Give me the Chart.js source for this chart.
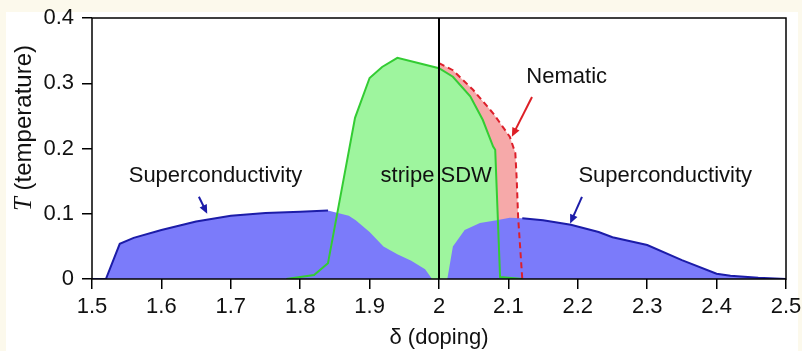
<!DOCTYPE html>
<html>
<head>
<meta charset="utf-8">
<script src="https://cdn.jsdelivr.net/npm/chart.js@4"></script>
<style>
  html, body { margin: 0; padding: 0; background: #fcf9ec; }
  #wrap { width: 802px; height: 351px; }
</style>
</head>
<body>
<div id="wrap"><canvas id="chart" width="802" height="351"></canvas></div>
<script>
// doping (delta) vs temperature T
const deltaTicks = [1.5, 1.6, 1.7, 1.8, 1.9, 2.0, 2.1, 2.2, 2.3, 2.4, 2.5];
const deltaTickLabels = ['1.5', '1.6', '1.7', '1.8', '1.9', '2', '2.1', '2.2', '2.3', '2.4', '2.5'];
const tempTicks = [0, 0.1, 0.2, 0.3, 0.4];
const tempTickLabels = ['0', '0.1', '0.2', '0.3', '0.4'];

// superconducting dome, visible outline on the left
const scLeftDelta = [1.5, 1.52, 1.54, 1.56, 1.6, 1.65, 1.7, 1.75, 1.8, 1.84];
const scLeftT = [0, 0, 0.054, 0.063, 0.075, 0.088, 0.097, 0.101, 0.103, 0.105];
// part of the dome hidden under the SDW region (no outline)
const scMidDelta = [1.87, 1.88, 1.9, 1.92, 1.94, 1.96, 1.98, 1.99, 2.0, 2.012, 2.02, 2.037, 2.059, 2.083, 2.102];
const scMidT = [0.097, 0.09, 0.072, 0.05, 0.038, 0.028, 0.015, 0, 0, 0, 0.05, 0.075, 0.086, 0.09, 0.094];
// visible outline on the right
const scRightDelta = [2.12, 2.15, 2.19, 2.23, 2.25, 2.3, 2.35, 2.4, 2.42, 2.46, 2.5];
const scRightT = [0.093, 0.09, 0.083, 0.072, 0.064, 0.052, 0.029, 0.008, 0.005, 0.002, 0];

// stripe SDW
const sdwDelta = [1.78, 1.82, 1.84, 1.879, 1.9, 1.918, 1.94, 1.97, 2.0, 2.02, 2.045, 2.063, 2.078, 2.081, 2.088, 2.12];
const sdwT = [0, 0.006, 0.024, 0.247, 0.308, 0.325, 0.339, 0.331, 0.323, 0.31, 0.28, 0.244, 0.203, 0.198, 0.003, 0];

// nematic boundary
const nemDelta = [2.0, 2.02, 2.049, 2.078, 2.102, 2.11, 2.112, 2.114, 2.12];
const nemT = [0.331, 0.32, 0.29, 0.254, 0.218, 0.193, 0.152, 0.095, 0];

// delta = 2 marker
const markDelta = [2.0, 2.0];
const markT = [0, 0.4];

// text labels and arrows, in data units
const labels = [
  { text: 'Superconductivity', x: 1.678, y: 0.149 },
  { text: 'stripe SDW', x: 1.996, y: 0.149 },
  { text: 'Nematic', x: 2.184, y: 0.301 },
  { text: 'Superconductivity', x: 2.326, y: 0.149 },
];
const arrows = [
  { from: [1.654, 0.126], to: [1.666, 0.1], color: '#1c1ca8' },
  { from: [2.206, 0.126], to: [2.189, 0.085], color: '#1c1ca8' },
  { from: [2.134, 0.279], to: [2.105, 0.218], color: '#dd1f26' },
];

const pts = (xs, ys) => xs.map((x, i) => ({ x: x, y: ys[i] }));

const scFill = pts(scLeftDelta.concat(scMidDelta, scRightDelta), scLeftT.concat(scMidT, scRightT));
const scLine = pts(scLeftDelta, scLeftT).concat([{ x: 1.9, y: null }], pts(scRightDelta, scRightT));

const sans = "'Liberation Sans', Arial, Helvetica, sans-serif";
const serif = "'Liberation Serif', 'Times New Roman', serif";

const decor = {
  id: 'decor',
  beforeDraw(chart) {
    const c = chart.ctx;
    c.save();
    c.fillStyle = '#ffffff';
    c.fillRect(6, 12, 792, 339);
    c.restore();
  },
  afterDatasetsDraw(chart) {
    const c = chart.ctx;
    const xs = chart.scales.x, ys = chart.scales.y;
    const a = chart.chartArea;
    c.save();
    // frame
    c.strokeStyle = '#000';
    c.lineWidth = 1.5;
    c.strokeRect(a.left, a.top, a.right - a.left, a.bottom - a.top);

    // labels
    c.fillStyle = '#111';
    c.font = '22px ' + sans;
    c.textAlign = 'center';
    c.textBaseline = 'alphabetic';
    labels.forEach(l => c.fillText(l.text, xs.getPixelForValue(l.x), ys.getPixelForValue(l.y)));

    // arrows
    arrows.forEach(ar => {
      const x0 = xs.getPixelForValue(ar.from[0]), y0 = ys.getPixelForValue(ar.from[1]);
      const x1 = xs.getPixelForValue(ar.to[0]), y1 = ys.getPixelForValue(ar.to[1]);
      const ang = Math.atan2(y1 - y0, x1 - x0);
      const hl = 9, hw = 4;
      c.strokeStyle = ar.color;
      c.fillStyle = ar.color;
      c.lineWidth = 2;
      c.beginPath();
      c.moveTo(x0, y0);
      c.lineTo(x1 - Math.cos(ang) * hl * 0.8, y1 - Math.sin(ang) * hl * 0.8);
      c.stroke();
      c.beginPath();
      c.moveTo(x1, y1);
      c.lineTo(x1 - Math.cos(ang) * hl - Math.sin(ang) * hw, y1 - Math.sin(ang) * hl + Math.cos(ang) * hw);
      c.lineTo(x1 - Math.cos(ang) * hl + Math.sin(ang) * hw, y1 - Math.sin(ang) * hl - Math.cos(ang) * hw);
      c.closePath();
      c.fill();
    });

    // axis titles
    c.fillStyle = '#111';
    c.font = '22px ' + sans;
    c.textAlign = 'center';
    c.textBaseline = 'middle';
    c.fillText('\u03b4 (doping)', (a.left + a.right) / 2, 338);

    c.translate(24, 128);
    c.rotate(-Math.PI / 2);
    c.textAlign = 'left';
    c.font = 'italic 25px ' + serif;
    const wT = c.measureText('T').width;
    c.font = '24px ' + sans;
    const wRest = c.measureText(' (temperature)').width;
    const start = -(wT + wRest) / 2;
    c.font = 'italic 25px ' + serif;
    c.fillText('T', start, 0);
    c.font = '24px ' + sans;
    c.fillText(' (temperature)', start + wT, 0);
    c.restore();
  }
};

const chart = new Chart(document.getElementById('chart'), {
  type: 'line',
  data: {
    datasets: [
      { label: 'marker', data: pts(markDelta, markT), borderColor: '#000', borderWidth: 2, order: 0 },
      { label: 'SC line', data: scLine, borderColor: '#1c1ca8', borderWidth: 2, spanGaps: false, order: 1 },
      { label: 'Nematic line', data: pts(nemDelta, nemT), borderColor: '#dd1f2a', borderWidth: 2, borderDash: [6, 4], order: 2 },
      { label: 'SDW line', data: pts(sdwDelta, sdwT), borderColor: '#33cc33', borderWidth: 2, order: 3 },
      { label: 'SC', data: scFill, borderWidth: 0, borderColor: 'rgba(0,0,0,0)', backgroundColor: '#7b7bfa', fill: 'origin', order: 4 },
      { label: 'SDW', data: pts(sdwDelta, sdwT), borderWidth: 0, borderColor: 'rgba(0,0,0,0)', backgroundColor: '#9ef59e', fill: 'origin', order: 5 },
      { label: 'Nematic', data: pts(nemDelta, nemT), borderWidth: 0, borderColor: 'rgba(0,0,0,0)', backgroundColor: '#f6a9a9', fill: 'origin', order: 6 },
    ]
  },
  options: {
    responsive: false,
    animation: false,
    events: [],
    layout: { padding: { left: 0, right: 16, top: 18, bottom: 0 } },
    elements: { point: { radius: 0 }, line: { tension: 0 } },
    plugins: { legend: { display: false }, tooltip: { enabled: false } },
    scales: {
      x: {
        type: 'linear',
        min: 1.5,
        max: 2.5,
        afterFit: s => { s.height = 72; s.paddingLeft = 0; s.paddingRight = 0; },
        afterBuildTicks: s => { s.ticks = deltaTicks.map(v => ({ value: v })); },
        border: { display: false },
        grid: { drawOnChartArea: false, drawTicks: true, tickLength: 10, color: '#000', lineWidth: 1.5 },
        ticks: {
          padding: 5,
          maxRotation: 0,
          autoSkip: false,
          color: '#111',
          font: { family: sans, size: 22 },
          callback: (v, i) => deltaTickLabels[i]
        }
      },
      y: {
        min: 0,
        max: 0.4,
        afterFit: s => { s.width = 92; s.paddingTop = 0; s.paddingBottom = 0; },
        afterBuildTicks: s => { s.ticks = tempTicks.map(v => ({ value: v })); },
        border: { display: false },
        grid: { drawOnChartArea: false, drawTicks: true, tickLength: 10, color: '#000', lineWidth: 1.5 },
        ticks: {
          padding: 8,
          autoSkip: false,
          color: '#111',
          font: { family: sans, size: 22 },
          callback: (v, i) => tempTickLabels[i]
        }
      }
    }
  },
  plugins: [decor]
});
</script>
</body>
</html>
